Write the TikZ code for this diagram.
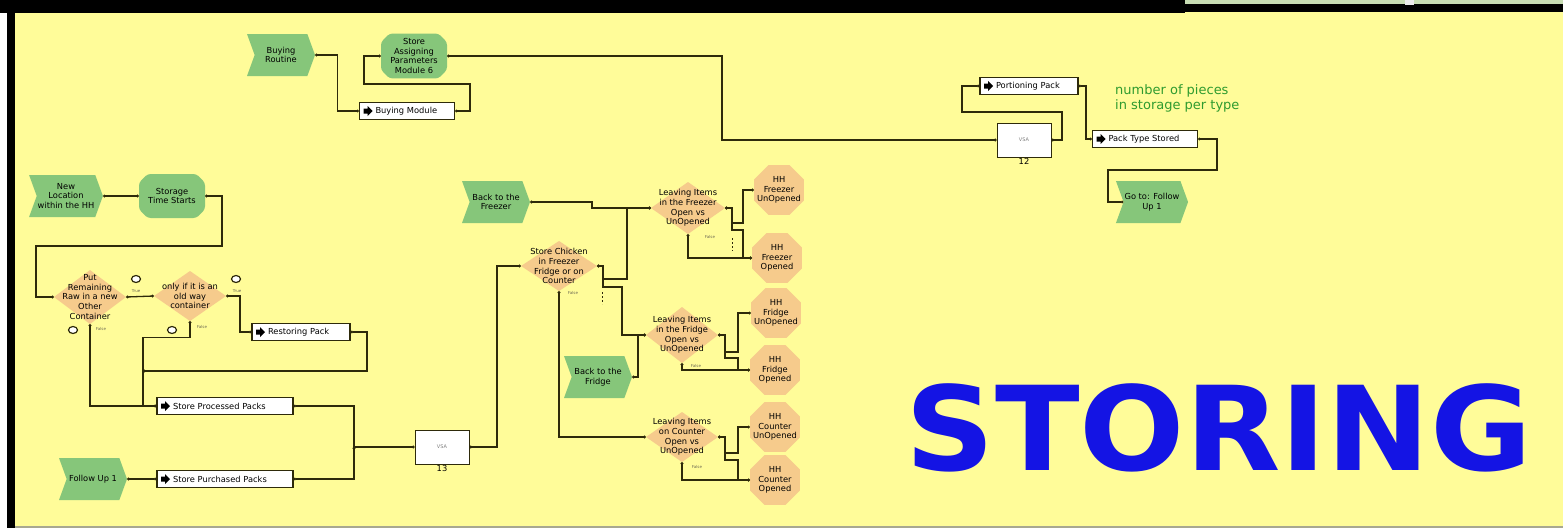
\documentclass[tikz,border=0pt]{standalone}
\usepackage{fontspec}
\setmainfont{DejaVu Sans}
\usetikzlibrary{positioning,arrows.meta,shapes.geometric,shapes.symbols,shapes.misc,calc}
\definecolor{styellow}{HTML}{FFFC99}
\definecolor{stgreen}{HTML}{86C67A}
\definecolor{storange}{HTML}{F6CB8C}
\definecolor{stdark}{HTML}{2E2A0A}
\definecolor{stblue}{HTML}{1414E4}
\definecolor{stnote}{HTML}{2F9B2F}
\definecolor{stcell}{HTML}{C8DDB4}
\definecolor{stgray}{HTML}{A8A890}
\newcommand{\sttext}{\fontsize{8.3}{9.8}\selectfont}
\tikzset{
  stevent/.style={signal, signal to=east, signal from=west, signal pointer angle=140,
                  fill=stgreen, align=center, font=\sttext, inner sep=1pt,
                  minimum width=68pt, minimum height=42pt},
  stfunc/.style={chamfered rectangle, chamfered rectangle xsep=5pt, rounded corners=3pt,
                 fill=stgreen, align=center, font=\sttext, inner sep=1pt,
                 minimum width=66pt, minimum height=44pt},
  stproc/.style={draw=stdark, line width=1.2pt, fill=white, font=\sttext, align=left,
                 text width=#1, inner xsep=3pt, inner ysep=0pt, minimum height=17pt,
                 execute at begin node={\hspace*{13pt}},
                 path picture={\fill[black] ([xshift=4pt,yshift=2.5pt]path picture bounding box.west)
                   -- ++(4,0) -- ++(0,-2.5) -- ++(5,5) -- ++(-5,5) -- ++(0,-2.5) -- ++(-4,0) -- cycle;}},
  stdecide/.style={rectangle, inner sep=0pt, align=center, font=\sttext,
                 path picture={\fill[storange] (path picture bounding box.north) -- (path picture bounding box.east)
                   -- (path picture bounding box.south) -- (path picture bounding box.west) -- cycle;}},
  ststate/.style={regular polygon, regular polygon sides=8, fill=storange, inner sep=-6pt,
                  minimum size=54pt, align=center, font=\sttext},
  stvsa/.style={draw=stdark, line width=1pt, fill=white, minimum width=54pt, minimum height=34pt,
                font=\fontsize{5}{6}\selectfont, text=gray, label={[font=\sttext, inner sep=1pt]below:#1}},
  stxor/.style={ellipse, draw=stdark, line width=1.2pt, fill=white, minimum width=9pt,
                minimum height=7pt, inner sep=0pt},
  sttiny/.style={font=\fontsize{4}{5}\selectfont, text=stdark!70, inner sep=0pt},
  stlink/.style={{Circle[length=2.6pt]}-{Circle[length=2.6pt]}, line width=1.3pt, draw=stdark},
}
\begin{document}
\begin{tikzpicture}[x=1pt,y=-1pt]
        % ---------------- frame ----------------
        \useasboundingbox (0,0) rectangle (1563,528);
        \fill[white] (0,0) rectangle (1563,528);
        \fill[styellow] (15,12) rectangle (1563,526);
        \fill[black] (0,0) rectangle (1185,13);
        \fill[black] (1185,4) rectangle (1563,12);
        \fill[stcell] (1185,0) rectangle (1563,4);
        \fill[white!85!gray] (1405,0) rectangle (1414,5);
        \fill[black] (7,0) rectangle (15,528);
        \fill[stgray] (15,526) rectangle (1563,528);
        % ---------------- buying ----------------
        \node[stevent] (br) at (281,55) {Buying\\Routine};
        \node[stfunc] (sap) at (414,56) {Store\\Assigning\\Parameters\\Module 6};
        \node[stproc=89pt] (bm) at (407,111) {Buying Module};
        % ---------------- portioning ----------------
        \node[stvsa=12] (vsa12) at (1024,140) {VSA};
        \node[stproc=92pt] (pp) at (1029,86) {Portioning Pack};
        \node[stproc=99pt] (pts) at (1145,139) {Pack Type Stored};
        \node[font=\fontsize{13}{15}\selectfont, text=stnote, align=left, anchor=north west, inner sep=0pt] (note) at (1115,84) {number of pieces\\in storage per type};
        \node[stevent] (gtf) at (1152,202) {Go to: Follow\\Up 1};
        % ---------------- location and container ----------------
        \node[stevent] (nl) at (66,196) {New\\Location\\within the HH};
        \node[stfunc] (sts) at (172,196) {Storage\\Time Starts};
        \node[stdecide, minimum width=72pt, minimum height=54pt] (pr) at (90,297) {Put\\Remaining\\Raw in a new\\Other\\Container};
        \node[stdecide, minimum width=72pt, minimum height=50pt] (oi) at (190,296) {only if it is an\\old way\\container};
        \node[stproc=92pt] (rp) at (301,332) {Restoring Pack};
        \node[stxor] (xo1) at (136,279) {};
        \node[stxor] (xo2) at (73,330) {};
        \node[stxor] (xo3) at (236,279) {};
        \node[stxor] (xo4) at (172,330) {};
        \node[sttiny] (t1) at (136,291) {True};
        \node[sttiny] (f1) at (101,329) {False};
        \node[sttiny] (t2) at (237,291) {True};
        \node[sttiny] (f2) at (202,327) {False};
        % ---------------- packs ----------------
        \node[stproc=130pt] (spr) at (225,406) {Store Processed Packs};
        \node[stproc=130pt] (spu) at (225,479) {Store Purchased Packs};
        \node[stevent] (fu) at (93,479) {Follow Up 1};
        \node[stvsa=13] (vsa13) at (442,447) {VSA};
        % ---------------- freezer, fridge, counter ----------------
        \node[stevent] (btf) at (496,202) {Back to the\\Freezer};
        \node[stevent] (btr) at (598,377) {Back to the\\Fridge};
        \node[stdecide, minimum width=76pt, minimum height=50pt] (sc) at (559,266) {Store Chicken\\in Freezer\\Fridge or on\\Counter};
        \node[stdecide, minimum width=74pt, minimum height=52pt] (lfz) at (688,208) {Leaving Items\\in the Freezer\\Open vs\\UnOpened};
        \node[stdecide, minimum width=72pt, minimum height=56pt] (lfr) at (682,335) {Leaving Items\\in the Fridge\\Open vs\\UnOpened};
        \node[stdecide, minimum width=72pt, minimum height=50pt] (lco) at (682,437) {Leaving Items\\on Counter\\Open vs\\UnOpened};
        \node[sttiny] (f3) at (573,293) {False};
        \node[sttiny] (f4) at (710,237) {False};
        \node[sttiny] (f5) at (696,366) {False};
        \node[sttiny] (f6) at (697,467) {False};
        \node[ststate] (hfu) at (779,190) {HH\\Freezer\\UnOpened};
        \node[ststate] (hfo) at (777,258) {HH\\Freezer\\Opened};
        \node[ststate] (hru) at (776,313) {HH\\Fridge\\UnOpened};
        \node[ststate] (hro) at (775,370) {HH\\Fridge\\Opened};
        \node[ststate] (hcu) at (775,427) {HH\\Counter\\UnOpened};
        \node[ststate] (hco) at (775,480) {HH\\Counter\\Opened};
        % ---------------- title ----------------
        \node[font=\fontsize{117}{117}\selectfont\bfseries, text=stblue, anchor=base, inner sep=0pt] (title) at (1219,470) {\scalebox{1.06}[1]{STORING}};
        % ---------------- connectors ----------------
        \coordinate (jr) at (143,371);
        \coordinate (j13) at (354,447);
        \draw[stlink] (br.east) -- ++(22,0) |- (bm.west);
        \draw[stlink] (bm.east) -| (470,84) -- (364,84) |- (sap.west);
        \draw[stlink] (sap.east) -| (722,140) -- (vsa12.west);
        \draw[stlink] (vsa12.east) -| (1062,112) -| (962,86) -- (pp.west);
        \draw[stlink] (pp.east) -| (1086,139) -- (pts.west);
        \draw[stlink] (pts.east) -| (1217,170) -| (1108,202) -- (gtf.west);
        \draw[stlink] (nl.east) -- (sts.west);
        \draw[stlink] (sts.east) -| (222,246) -| (36,297) -- (pr.west);
        \draw[stlink] (oi.west) -- (pr.east);
        \draw[stlink] (oi.east) -| (240,332) -- (rp.west);
        \draw[stlink] (rp.east) -| (367,371) -- (jr);
        \draw[stlink] (oi.south) -- ++(0,16) -| (143,406) -- (spr.west);
        \draw[stlink] (pr.south) |- (spr.west);
        \draw[stlink] (fu.east) -- (spu.west);
        \draw[stlink] (spr.east) -| (j13) -- (vsa13.west);
        \draw[stlink] (spu.east) -| (j13);
        \draw[stlink] (vsa13.east) -| (497,266) -- (sc.west);
        \draw[stlink] (btf.east) -| (592,208) -- (lfz.west);
        \draw[stlink] (sc.east) -- (603,266) |- (627,279) |- (lfz.west);
        \draw[stlink] (sc.east) -- (603,266) |- (622,287) |- (lfr.west);
        \draw[stlink] (btr.east) -| (638,335) -- (lfr.west);
        \draw[stlink] (sc.south) |- (lco.west);
        \draw[stlink] (lfz.east) -- (732,208) |- (743,223) |- (hfu.west);
        \draw[stlink] (lfz.east) -- (732,208) |- (743,230) |- (hfo.west);
        \draw[stlink] (lfz.south) |- (hfo.west);
        \draw[stlink] (lfr.east) -- (725,335) |- (738,352) |- (hru.west);
        \draw[stlink] (lfr.east) -- (725,335) |- (738,358) |- (hro.west);
        \draw[stlink] (lfr.south) |- (hro.west);
        \draw[stlink] (lco.east) -- (725,437) |- (738,453) |- (hcu.west);
        \draw[stlink] (lco.east) -- (725,437) |- (738,460) |- (hco.west);
        \draw[stlink] (lco.south) |- (hco.west);
        \draw[stdark, line width=1pt, dash pattern=on 2pt off 2pt] (602,292) -- (602,304);
        \draw[stdark, line width=1pt, dash pattern=on 2pt off 2pt] (732,238) -- (732,251);
    \end{tikzpicture}
\end{document}
